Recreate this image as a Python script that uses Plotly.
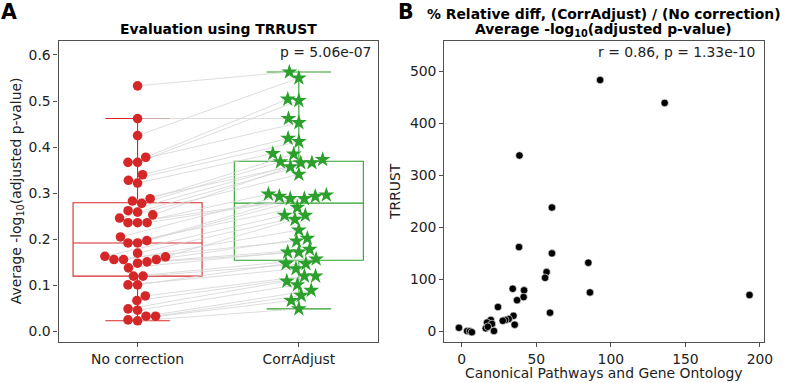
import numpy as np
import plotly.graph_objects as go

# ---------------- data ----------------
no_correction = [0.533, 0.462, 0.425, 0.378, 0.367, 0.367, 0.340, 0.328, 0.322, 0.288, 0.283,
                 0.278, 0.262, 0.259, 0.253, 0.246, 0.236, 0.236, 0.236, 0.205, 0.197, 0.192,
                 0.192, 0.170, 0.163, 0.162, 0.156, 0.156, 0.156, 0.151, 0.148, 0.138, 0.120,
                 0.120, 0.101, 0.101, 0.077, 0.067, 0.049, 0.046, 0.033, 0.033, 0.025, 0.023]
corradjust = [0.563, 0.462, 0.550, 0.504, 0.501, 0.453, 0.419, 0.412, 0.386, 0.385, 0.373,
              0.368, 0.366, 0.366, 0.357, 0.341, 0.298, 0.296, 0.293, 0.293, 0.288, 0.288,
              0.269, 0.252, 0.252, 0.243, 0.220, 0.202, 0.196, 0.178, 0.172, 0.172, 0.157,
              0.147, 0.147, 0.136, 0.120, 0.120, 0.109, 0.101, 0.089, 0.078, 0.067, 0.049]
group_labels = ["No correction", "CorrAdjust"]

cp_go = [92.8, 136.1, 38.7, 60.5, 38.4, 60.5, 84.9, 56.9, 55.9, 34.2, 41.8, 86.0, 193.0, 41.5,
         37.1, 24.3, 59.2, 34.7, 31.5, 29.2, 27.5, 19.5, 17.0, 20.3, 35.5, 16.1, 17.5, 21.6,
         -1.9, 3.6, 5.5, 6.8]
trrust = [483, 439, 338, 238, 162, 150, 132, 114, 103, 82, 79, 75, 70, 66,
          60, 47, 36, 30, 24, 22, 20.5, 22, 17, 14.5, 13, 6, 9, 1,
          7, 0.7, 0.5, -1.5]

left_yticks = [0.0, 0.1, 0.2, 0.3, 0.4, 0.5, 0.6]
right_xticks = [0, 50, 100, 150, 200]
right_yticks = [0, 100, 200, 300, 400, 500]

# ---------------- layout geometry ----------------
W, H = 790, 383
RED = "#d62728"
GREEN = "#2ca02c"
FONT = "DejaVu Sans"
FS = 13.9
AX = "#505050"

dom_y = [(H - 342) / H, (H - 40.7) / H]
dom_xl = [59.3 / W, 382.7 / W]
dom_xr = [450 / W, 773.3 / W]
xr_l = [-0.49, 1.49]
yr_l = [-0.023, 0.631]
xr_r = [-11.7, 202.4]
yr_r = [-20.3, 558.5]

px_x = (dom_xl[1] - dom_xl[0]) * W / (xr_l[1] - xr_l[0])
px_y = (dom_y[1] - dom_y[0]) * H / (yr_l[1] - yr_l[0])


def swarm(vals, d):
    ys = np.asarray(vals, float) * px_y
    order = np.argsort(ys, kind="stable")
    xs = np.zeros(len(ys))
    placed = []
    for i in order:
        y = ys[i]
        nb = [(xs[j], ys[j]) for j in placed if abs(ys[j] - y) < d]
        cands = [0.0]
        for xn, yn in nb:
            dx = np.sqrt(max(d * d - (yn - y) ** 2, 0))
            cands += [xn - dx, xn + dx]
        cands.sort(key=abs)
        for c in cands:
            if all((c - xn) ** 2 + (y - yn) ** 2 >= d * d - 1e-6 for xn, yn in nb):
                xs[i] = c
                break
        placed.append(i)
    return xs / px_x


xa = 0 + swarm(no_correction, 9.7)
xb = 1 + swarm(corradjust, 11.3)

fig = go.Figure()

# connecting lines
lx, ly = [], []
for i in range(len(no_correction)):
    lx += [xa[i], xb[i], None]
    ly += [no_correction[i], corradjust[i], None]
fig.add_trace(go.Scatter(x=lx, y=ly, mode="lines", line=dict(color="#d4d4d4", width=0.8),
                         hoverinfo="skip", showlegend=False, xaxis="x", yaxis="y"))


def stats(v):
    v = np.sort(np.asarray(v, float))
    q1, med, q3 = np.percentile(v, [25, 50, 75])
    iqr = q3 - q1
    lo = v[v >= q1 - 1.5 * iqr].min()
    hi = v[v <= q3 + 1.5 * iqr].max()
    return q1, med, q3, lo, hi


for k, (vals, col) in enumerate([(no_correction, RED), (corradjust, GREEN)]):
    q1, med, q3, lo, hi = stats(vals)
    fig.add_trace(go.Box(x=[k], q1=[q1], median=[med], q3=[q3], lowerfence=[lo], upperfence=[hi],
                         width=0.8, whiskerwidth=0.5, line=dict(color=col, width=1.1),
                         fillcolor="rgba(255,255,255,0)", boxpoints=False,
                         showlegend=False, xaxis="x", yaxis="y"))

fig.add_trace(go.Scatter(x=xa, y=no_correction, mode="markers",
                         marker=dict(color=RED, size=9.6, line=dict(width=0)),
                         showlegend=False, xaxis="x", yaxis="y"))
fig.add_trace(go.Scatter(x=xb, y=corradjust, mode="markers",
                         marker=dict(color=GREEN, size=12, symbol="star", line=dict(width=0)),
                         showlegend=False, xaxis="x", yaxis="y"))

fig.add_trace(go.Scatter(x=cp_go, y=trrust, mode="markers",
                         marker=dict(color="black", size=7.5, line=dict(color="white", width=0.6)),
                         showlegend=False, xaxis="x2", yaxis="y2"))

axis_common = dict(showline=True, mirror=True, linecolor=AX, linewidth=1.2, ticks="outside",
                   ticklen=4, tickcolor=AX, tickwidth=1, showgrid=False, zeroline=False,
                   tickfont=dict(family=FONT, size=FS, color="#222"))

fig.update_layout(
    width=W, height=H, margin=dict(l=0, r=0, t=0, b=0),
    paper_bgcolor="white", plot_bgcolor="white",
    font=dict(family=FONT, size=FS, color="#222"),
    xaxis=dict(domain=dom_xl, range=xr_l, tickvals=[0, 1], ticktext=group_labels, **axis_common),
    yaxis=dict(domain=dom_y, range=yr_l, tickvals=left_yticks,
               ticktext=[f"{t:.1f}" for t in left_yticks], **axis_common),
    xaxis2=dict(domain=dom_xr, range=xr_r, tickvals=right_xticks, anchor="y2", **axis_common),
    yaxis2=dict(domain=dom_y, range=yr_r, tickvals=right_yticks, anchor="x2", **axis_common),
)

ann = [
    dict(text="<b>A</b>", x=9.5 / W, y=1 - 12 / H, size=20.5, xanchor="center"),
    dict(text="<b>B</b>", x=411.5 / W, y=1 - 12 / H, size=20.5, xanchor="center"),
    dict(text="<b>Evaluation using TRRUST</b>", x=221 / W, y=1 - 29 / H, size=FS, xanchor="center"),
    dict(text="<b>% Relative diff, (CorrAdjust) / (No correction)</b>", x=611.7 / W, y=1 - 13.5 / H,
         size=FS, xanchor="center"),
    dict(text="<b>Average -log<sub>10</sub>(adjusted p-value)</b>", x=611.7 / W, y=1 - 29.5 / H,
         size=FS, xanchor="center"),
    dict(text="p = 5.06e-07", x=377.7 / W, y=1 - 52 / H, size=FS, xanchor="right"),
    dict(text="r = 0.86, p = 1.33e-10", x=766.7 / W, y=1 - 52 / H, size=FS, xanchor="right"),
    dict(text="Canonical Pathways and Gene Ontology", x=611.7 / W, y=1 - 373.3 / H, size=FS,
         xanchor="center"),
]
for a in ann:
    fig.add_annotation(text=a["text"], x=a["x"], y=a["y"], xref="paper", yref="paper",
                       xanchor=a["xanchor"], yanchor="middle", showarrow=False,
                       font=dict(family=FONT, size=a["size"], color="black" if "<b>" in a["text"] else "#222"))

fig.add_annotation(text="Average -log<sub>10</sub>(adjusted p-value)", x=17.5 / W, y=1 - 191 / H,
                   xref="paper", yref="paper", textangle=-90, showarrow=False,
                   xanchor="center", yanchor="middle", font=dict(family=FONT, size=FS, color="#222"))
fig.add_annotation(text="TRRUST", x=400 / W, y=1 - 191 / H,
                   xref="paper", yref="paper", textangle=-90, showarrow=False,
                   xanchor="center", yanchor="middle", font=dict(family=FONT, size=FS, color="#222"))

fig.write_html("out.html", config={"displayModeBar": False},
               post_script="document.body.style.margin='0';document.body.style.overflow='hidden';")
